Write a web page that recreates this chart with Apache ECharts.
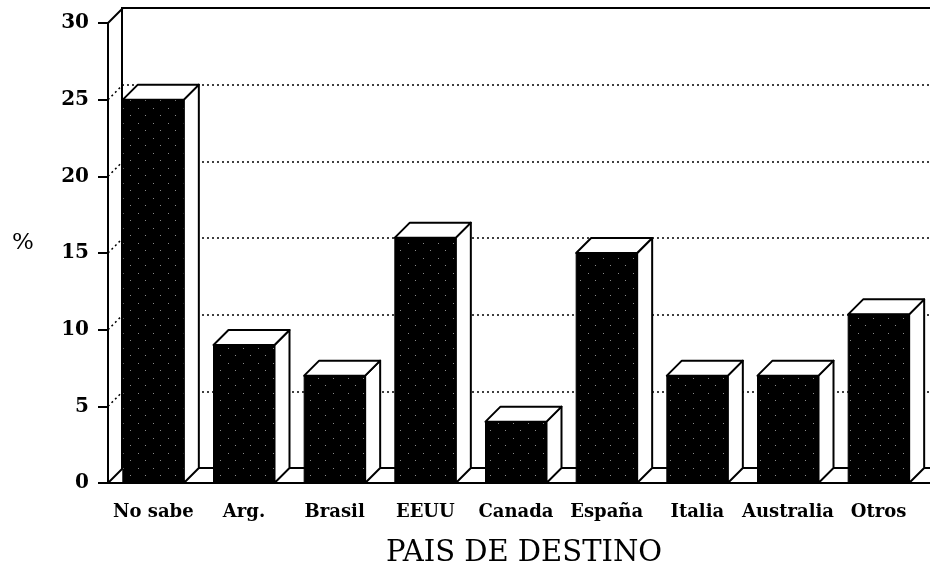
<!DOCTYPE html>
<html>
<head>
<meta charset="utf-8">
<style>html,body{margin:0;padding:0;background:#fff}#main{width:930px;height:567px}</style>
<script src="https://cdn.jsdelivr.net/npm/echarts@6/dist/echarts.min.js"></script>
</head>
<body>
<div id="main"></div>
<script>
var categories = ['No sabe', 'Arg.', 'Brasil', 'EEUU', 'Canada', 'España', 'Italia', 'Australia', 'Otros'];
var percent = [25, 9, 7, 16, 4, 15, 7, 7, 11];
var yTicks = [0, 5, 10, 15, 20, 25, 30];

var serif = '"DejaVu Serif", serif';
var depth = 15;
var barWidth = 61;

// stippled fill of the bar fronts
var cell = document.createElement('canvas');
cell.width = 15;
cell.height = 15;
var ctx = cell.getContext('2d');
ctx.fillStyle = '#000';
ctx.fillRect(0, 0, 15, 15);
ctx.fillStyle = '#8a8a8a';
ctx.fillRect(3, 3, 1, 1);
ctx.fillRect(10, 10, 1, 1);

var myChart = echarts.init(document.getElementById('main'));

function renderBar(params, api) {
    var top = api.coord([api.value(0), api.value(1)]);
    var bottom = api.coord([api.value(0), 0]);
    var x0 = top[0] - barWidth / 2;
    var x1 = top[0] + barWidth / 2;
    var y0 = top[1];
    var y1 = bottom[1];
    var line = {stroke: '#000', lineWidth: 2, fill: '#fff', lineJoin: 'round'};
    return {
        type: 'group',
        children: [
            {type: 'polygon', shape: {points: [[x1, y0], [x1 + depth, y0 - depth], [x1 + depth, y1 - depth], [x1, y1]]}, style: line},
            {type: 'polygon', shape: {points: [[x0, y0], [x0 + depth, y0 - depth], [x1 + depth, y0 - depth], [x1, y0]]}, style: line},
            {type: 'rect', shape: {x: x0, y: y0, width: barWidth, height: y1 - y0}, style: {fill: {image: cell, repeat: 'repeat'}, stroke: '#000', lineWidth: 1}}
        ]
    };
}

// links from the front axis ticks to the back wall, the floor line runs on past the last bar
function renderLink(params, api) {
    var value = api.value(0);
    var p = api.coord([0, value]);
    var x = params.coordSys.x;
    var solid = value === 0 || value === 30;
    var children = [{
        type: 'line',
        shape: {x1: x, y1: p[1], x2: x + depth, y2: p[1] - depth},
        style: {stroke: '#000', lineWidth: solid ? 2 : 1.5, lineDash: solid ? null : [2, 3]}
    }];
    if (value === 0) {
        var right = x + params.coordSys.width;
        children.push({
            type: 'line',
            shape: {x1: right, y1: p[1], x2: right + depth, y2: p[1]},
            style: {stroke: '#000', lineWidth: 2}
        });
    }
    return {type: 'group', children: children};
}

var option = {
    animation: false,
    backgroundColor: '#fff',
    title: {
        text: '%',
        left: 7,
        top: 227,
        textStyle: {fontFamily: serif, fontSize: 23, fontWeight: 'normal', color: '#000'}
    },
    grid: [
        {left: 108, top: 23, width: 816, height: 460, outerBoundsMode: 'none'},
        {left: 122, top: 8, width: 830, height: 460, outerBoundsMode: 'none', show: true, borderColor: '#000', borderWidth: 2, backgroundColor: 'transparent'}
    ],
    xAxis: [
        {
            type: 'category',
            data: categories,
            gridIndex: 0,
            name: 'PAIS DE DESTINO',
            nameLocation: 'middle',
            nameGap: 56,
            nameTextStyle: {fontFamily: serif, fontSize: 29, color: '#000', padding: [0, 0, 0, 16]},
            axisLine: {lineStyle: {color: '#000', width: 2}},
            axisTick: {alignWithLabel: true, length: 11, lineStyle: {color: '#000', width: 2}},
            axisLabel: {interval: 0, margin: 20, fontFamily: serif, fontWeight: 'bold', fontSize: 18, color: '#000'}
        },
        {type: 'category', data: categories, gridIndex: 1, show: false}
    ],
    yAxis: [
        {
            type: 'value',
            gridIndex: 0,
            min: 0,
            max: 30,
            interval: 5,
            axisLine: {show: true, lineStyle: {color: '#000', width: 2}},
            axisTick: {show: true, length: 10, lineStyle: {color: '#000', width: 2}},
            axisLabel: {margin: 19, fontFamily: serif, fontWeight: 'bold', fontSize: 20, color: '#000'},
            splitLine: {show: false}
        },
        {
            type: 'value',
            gridIndex: 1,
            min: 0,
            max: 30,
            interval: 5,
            axisLine: {show: false},
            axisTick: {show: false},
            axisLabel: {show: false},
            splitLine: {show: true, lineStyle: {color: '#000', width: 1.5, type: [2, 3]}}
        }
    ],
    series: [
        {
            name: 'links',
            type: 'custom',
            xAxisIndex: 0,
            yAxisIndex: 0,
            z: 2,
            silent: true,
            clip: false,
            encode: {y: 0},
            data: yTicks.map(function (v) { return [v]; }),
            renderItem: renderLink
        },
        {
            name: 'Pais de destino',
            type: 'custom',
            xAxisIndex: 0,
            yAxisIndex: 0,
            z: 3,
            clip: false,
            encode: {x: 0, y: 1},
            data: percent.map(function (v, i) { return [i, v]; }),
            renderItem: renderBar
        }
    ]
};

myChart.setOption(option);
</script>
</body>
</html>
